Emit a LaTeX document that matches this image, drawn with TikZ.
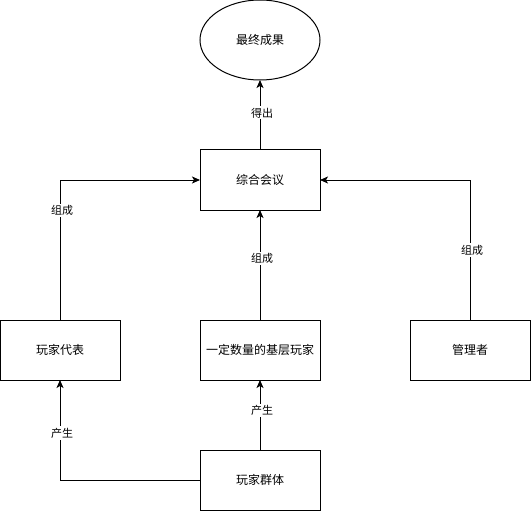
\documentclass[tikz,border=0pt]{standalone}
\usepackage{fontspec}
\setmainfont{Noto Sans CJK SC}
\usetikzlibrary{shapes,arrows.meta,positioning}

\tikzset{
    block/.style={draw, rectangle, line width=1pt, outer sep=0pt, minimum width=120pt, minimum height=60pt, font=\fontsize{12pt}{14pt}\selectfont},
    conn/.style={draw, line width=1pt, -{Stealth[length=8pt,width=7pt,inset=2pt]}},
    lbl/.style={fill=white, inner sep=1.5pt, xshift=2pt, font=\fontsize{11pt}{13pt}\selectfont}
}

\begin{document}
\begin{tikzpicture}[x=1pt, y=-1pt]
    \useasboundingbox (0,0) rectangle (531,511);
    \node [draw, ellipse, line width=1pt, outer sep=0pt, minimum width=120pt, minimum height=80pt, font=\fontsize{12pt}{14pt}\selectfont] (result) at (260,40) {最终成果};
    \node [block, below=70pt of result] (meeting) {综合会议};
    \node [block, below=110pt of meeting] (base) {一定数量的基层玩家};
    \node [block, left=80pt of base] (rep) {玩家代表};
    \node [block, right=90pt of base] (admin) {管理者};
    \node [block, below=70pt of base] (crowd) {玩家群体};

    \draw [conn] (meeting) -- node [lbl, pos=0.53] {得出} (result);
    \draw [conn] (base) -- node [lbl, pos=0.56] {组成} (meeting);
    \draw [conn] (rep) |- node [lbl, pos=0.39] {组成} (meeting);
    \draw [conn] (admin) |- node [lbl, pos=0.25] {组成} (meeting);
    \draw [conn] (crowd) -- node [lbl, pos=0.56] {产生} (base);
    \draw [conn] (crowd) -| node [lbl, pos=0.735] {产生} (rep);
\end{tikzpicture}
\end{document}
